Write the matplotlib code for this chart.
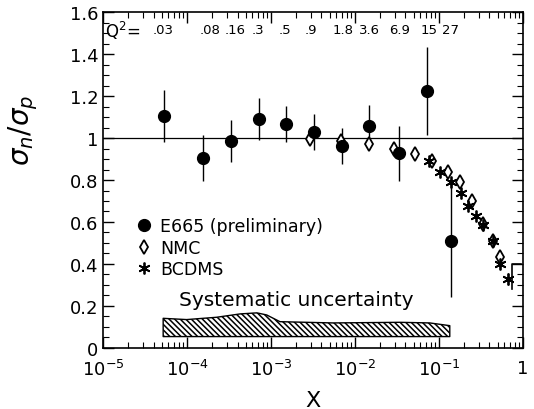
import numpy as np
import matplotlib.pyplot as plt
from matplotlib.ticker import LogLocator, MultipleLocator, FixedLocator

# E665 (preliminary) sigma_n / sigma_p
e665_x = [5.3e-5, 1.55e-4, 3.3e-4, 7.2e-4, 1.5e-3, 3.25e-3, 6.95e-3, 0.0147, 0.0334, 0.0713, 0.139]
e665_y = [1.105, 0.905, 0.987, 1.09, 1.067, 1.028, 0.963, 1.057, 0.927, 1.224, 0.511]
e665_err = [0.125, 0.11, 0.10, 0.10, 0.085, 0.085, 0.085, 0.10, 0.13, 0.21, 0.27]

# NMC
nmc_x = [0.0029, 0.0068, 0.0147, 0.029, 0.0518, 0.0818, 0.129, 0.178, 0.249, 0.336, 0.444, 0.542]
nmc_y = [0.995, 0.985, 0.971, 0.948, 0.924, 0.889, 0.84, 0.789, 0.70, 0.59, 0.511, 0.432]
nmc_err = [0.01, 0.01, 0.01, 0.01, 0.01, 0.012, 0.012, 0.015, 0.02, 0.02, 0.02, 0.03]

# BCDMS
bcdms_x = [0.076, 0.103, 0.139, 0.183, 0.223, 0.28, 0.336, 0.444, 0.542, 0.668]
bcdms_y = [0.889, 0.837, 0.789, 0.737, 0.678, 0.63, 0.585, 0.511, 0.40, 0.329]
bcdms_err = [0.015, 0.015, 0.015, 0.015, 0.015, 0.015, 0.015, 0.02, 0.02, 0.03]

# BCDMS normalisation bracket at high x
bracket_x = [0.95, 0.753, 0.753]
bracket_y = [0.40, 0.40, 0.28]

# systematic uncertainty band
sys_x = [5.2e-5, 9.9e-5, 2.25e-4, 4.3e-4, 6.8e-4, 8.9e-4, 1.28e-3, 5.5e-3, 0.0343, 0.078, 0.135]
sys_top = [0.141, 0.135, 0.146, 0.162, 0.167, 0.157, 0.125, 0.119, 0.122, 0.119, 0.106]
sys_bottom = 0.054

# Q^2 labels along the top
q2_labels = ['.03', '.08', '.16', '.3', '.5', '.9', '1.8', '3.6', '6.9', '15', '27']
q2_x = [5.18e-5, 1.9e-4, 3.7e-4, 7.0e-4, 1.47e-3, 2.99e-3, 7.2e-3, 0.0151, 0.0343, 0.076, 0.139]

# x tick labels
xtick_vals = [1e-5, 1e-4, 1e-3, 1e-2, 1e-1, 1]
xtick_labels = [r'$10^{-5}$', r'$10^{-4}$', r'$10^{-3}$', r'$10^{-2}$', r'$10^{-1}$', '1']

plt.rcParams['font.family'] = 'DejaVu Sans'
plt.rcParams['hatch.linewidth'] = 1.1

fig = plt.figure(figsize=(5.34, 4.10), dpi=100)
ax = fig.add_axes([0.193, 0.149, 0.786, 0.819])

ax.axhline(1.0, color='black', lw=0.9)

ax.fill_between(sys_x, sys_bottom, sys_top, facecolor='white', edgecolor='black',
                hatch='\\\\\\\\\\\\', lw=1.0)

ax.errorbar(e665_x, e665_y, yerr=e665_err, fmt='none', ecolor='black', elinewidth=1.0)
ax.errorbar(nmc_x, nmc_y, yerr=nmc_err, fmt='none', ecolor='black', elinewidth=1.0)
ax.errorbar(bcdms_x, bcdms_y, yerr=bcdms_err, fmt='none', ecolor='black', elinewidth=1.0)

ax.plot(nmc_x, nmc_y, 'd', ms=7.5, mfc='white', mec='black', mew=1.3, ls='none', label='NMC')
ax.plot(bcdms_x, bcdms_y, marker=(6, 2, 0), ms=8.5, color='black', mew=1.3, ls='none', label='BCDMS')
ax.plot(e665_x, e665_y, 'o', ms=8.5, color='black', ls='none', label='E665 (preliminary)')

ax.plot(bracket_x, bracket_y, color='black', lw=1.2)

ax.text(2.0e-3, 0.233, 'Systematic uncertainty', fontsize=14.5, ha='center', va='center')

ax.text(1.05e-5, 1.515, r'$\mathrm{Q^2}$=', fontsize=12, ha='left', va='center')
for lab, xq in zip(q2_labels, q2_x):
    ax.text(xq, 1.515, lab, fontsize=9.5, ha='center', va='center')

handles, labels = ax.get_legend_handles_labels()
order = [2, 0, 1]
ax.legend([handles[i] for i in order], [labels[i] for i in order], loc='upper left',
          bbox_to_anchor=(0.06, 0.41), frameon=False, fontsize=12.5, handletextpad=0.45,
          labelspacing=0.2, handlelength=1.0, borderaxespad=0)

ax.set_xscale('log')
ax.set_xlim(1e-5, 1)
ax.set_ylim(0, 1.6)
ax.xaxis.set_major_locator(FixedLocator(xtick_vals))
ax.set_xticklabels(xtick_labels)
ax.xaxis.set_minor_locator(LogLocator(base=10, subs=np.arange(2, 10), numticks=10))
ax.yaxis.set_minor_locator(MultipleLocator(0.05))
ax.set_yticks([0, 0.2, 0.4, 0.6, 0.8, 1.0, 1.2, 1.4, 1.6])
ax.set_yticklabels(['0', '0.2', '0.4', '0.6', '0.8', '1', '1.2', '1.4', '1.6'])
ax.tick_params(which='both', direction='in', top=True, right=True, labelsize=13)
ax.tick_params(which='major', length=8, width=1.0)
ax.tick_params(which='minor', length=4, width=0.8)
ax.tick_params(axis='x', pad=8)
for s in ax.spines.values():
    s.set_linewidth(1.2)

ax.set_xlabel('X', fontsize=16, labelpad=8)
ax.set_ylabel(r'$\sigma_n/\sigma_p$', fontsize=20)
ax.yaxis.set_label_coords(-0.15, 0.65)

plt.savefig('out.png', dpi=100)
